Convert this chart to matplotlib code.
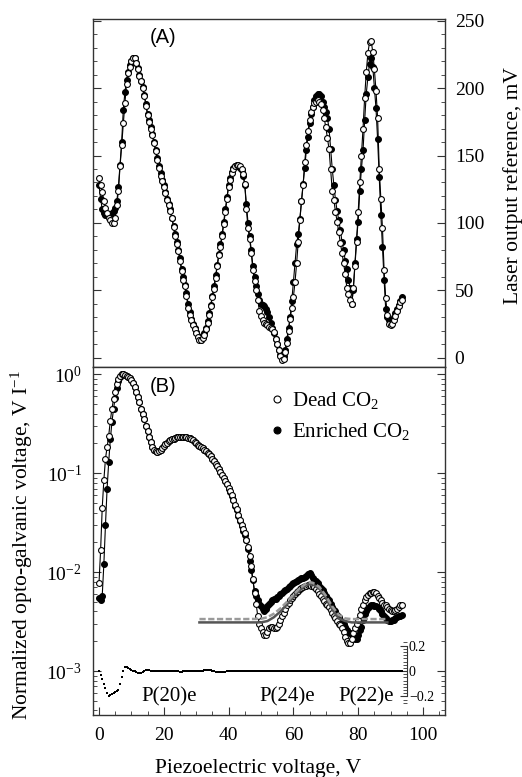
import numpy as np
import matplotlib
matplotlib.use('Agg')
import matplotlib.pyplot as plt
from matplotlib.lines import Line2D
from matplotlib.ticker import MultipleLocator, LogLocator, NullFormatter

plt.rcParams['font.family'] = ['Liberation Serif', 'DejaVu Serif']
plt.rcParams['mathtext.fontset'] = 'custom'
plt.rcParams['mathtext.rm'] = 'Liberation Serif'
plt.rcParams['mathtext.it'] = 'Liberation Serif:italic'

# piezoelectric voltage grid, V
piezo = np.arange(0, 94, 0.5)

# (A) laser output reference, mV
deadLaser = [
  133, 128, 123, 116, 111, 107, 104, 102, 100, 100,
  104, 113, 124, 142, 158, 174, 189, 203, 211, 216,
  220, 222, 222, 219, 214, 209, 205, 200, 194, 187,
  180, 175, 170, 165, 159, 153, 147, 141, 135, 131,
  127, 122, 117, 113, 109, 104, 97, 90, 84, 79,
  72, 64, 58, 53, 46, 37, 32, 28, 24, 21,
  18.5, 15.5, 13.5, 13, 14.5, 17, 21, 26, 32, 38,
  45, 51, 59, 68, 76, 82, 90, 99, 108, 118,
  127, 132, 137, 140, 142, 143, 143, 142, 140, 136,
  129, 110, 96, 88, 78, 65, 57, 50, 43, 35,
  31, 28, 26, 25, 24, 23, 22, 21, 19, 14,
  10, 6, 1, -1.5, -1, 4, 11, 20, 29, 37,
  45, 56, 70, 86, 102, 116, 128, 145, 158, 168,
  176, 182, 186, 189, 190, 191, 190, 188, 184, 178,
  171, 163, 155, 140, 124, 117, 108, 101, 93, 85,
  78, 70, 62, 52, 47, 43, 40, 52, 68, 86,
  108, 130, 150, 170, 193, 212, 226, 234, 235, 227,
  214, 198, 178, 140, 118, 96, 65, 44, 32, 25,
  24, 25, 28, 31, 35, 38, 41, 43]

enrichedLaser = [
  128, 118, 110, 107, 106, 106, 106, 106, 107, 109,
  111, 116, 127, 143, 160, 184, 197, 206, 212, 217,
  220, 222, 222, 219, 215, 210, 205, 201, 195, 188,
  181, 176, 171, 166, 160, 154, 148, 142, 137, 132,
  128, 123, 118, 114, 110, 104, 98, 92, 86, 80,
  74, 66, 60, 54, 48, 40, 34, 29, 25, 22,
  19, 16, 14, 13.5, 15, 18, 22, 27, 33, 39,
  46, 53, 61, 69, 77, 84, 92, 101, 110, 119,
  128, 133, 138, 141, 142, 143, 142, 141, 139, 135,
  128, 114, 100, 90, 80, 68, 60, 53, 47, 43,
  40, 39, 38, 36, 34, 30, 26, 22, 18, 14,
  10, 6, 2, 0, 1, 6, 14, 22, 30, 42,
  56, 70, 84, 92, 103, 116, 129, 141, 154, 164,
  174, 181, 186, 191, 194, 196, 196, 194, 190, 186,
  182, 178, 170, 155, 140, 128, 117, 109, 102, 95,
  86, 80, 72, 66, 58, 52, 40, 50, 70, 88,
  101, 124, 140, 154, 176, 196, 208, 218, 222, 216,
  200, 185, 162, 134, 106, 82, 58, 36, 30, 28,
  27, 28, 30, 33, 36, 39, 42, 45]

# (B) normalized opto-galvanic voltage, V/I
deadSignal = [
  0.0077, 0.0167, 0.045, 0.085, 0.14, 0.185, 0.24, 0.34, 0.45, 0.56,
  0.66, 0.80, 0.90, 0.97, 1.0, 1.0, 0.99, 0.97, 0.95, 0.92,
  0.88, 0.82, 0.75, 0.67, 0.59, 0.52, 0.45, 0.40, 0.35, 0.30,
  0.265, 0.235, 0.205, 0.185, 0.172, 0.166, 0.164, 0.166, 0.172, 0.18,
  0.188, 0.196, 0.204, 0.21, 0.216, 0.22, 0.224, 0.227, 0.23, 0.232,
  0.233, 0.234, 0.234, 0.233, 0.231, 0.228, 0.225, 0.22, 0.215, 0.208,
  0.2, 0.195, 0.19, 0.184, 0.178, 0.172, 0.166, 0.16, 0.155, 0.148,
  0.14, 0.133, 0.125, 0.118, 0.11, 0.103, 0.096, 0.09, 0.083, 0.077,
  0.071, 0.066, 0.06, 0.054, 0.048, 0.043, 0.038, 0.034, 0.03, 0.027,
  0.025, 0.021, 0.018, 0.0145, 0.0115, 0.0085, 0.0062, 0.0048, 0.0036, 0.003,
  0.0027, 0.0025, 0.0023, 0.0023, 0.0025, 0.0027, 0.0028, 0.0028, 0.0027, 0.0027,
  0.0028, 0.003, 0.0033, 0.0036, 0.0039, 0.0042, 0.0046, 0.0049, 0.0052, 0.0055,
  0.0057, 0.006, 0.0063, 0.0065, 0.0067, 0.0069, 0.0071, 0.0072, 0.0073, 0.0074,
  0.0074, 0.0073, 0.0072, 0.007, 0.0067, 0.0064, 0.006, 0.0057, 0.0054, 0.0051,
  0.0048, 0.0046, 0.0044, 0.0041, 0.0039, 0.0036, 0.0034, 0.0032, 0.003, 0.0029,
  0.0027, 0.0025, 0.0022, 0.002, 0.0019, 0.0019, 0.0021, 0.0024, 0.0027, 0.003,
  0.0033, 0.0037, 0.0042, 0.0047, 0.0052, 0.0056, 0.0059, 0.0061, 0.0062, 0.0063,
  0.0063, 0.0061, 0.0058, 0.0055, 0.0052, 0.0049, 0.0047, 0.0046, 0.0044, 0.0042,
  0.0041, 0.004, 0.004, 0.0041, 0.0042, 0.0044, 0.0046, 0.0047]

enrichedSignal = [
  0.0055, 0.0052, 0.0058, 0.012, 0.03, 0.07, 0.13, 0.22, 0.33, 0.45,
  0.58, 0.72, 0.85, 0.95, 1.0, 1.0, 0.99, 0.97, 0.95, 0.92,
  0.88, 0.82, 0.75, 0.67, 0.59, 0.52, 0.45, 0.40, 0.35, 0.30,
  0.265, 0.235, 0.205, 0.185, 0.172, 0.166, 0.164, 0.166, 0.172, 0.18,
  0.188, 0.196, 0.204, 0.21, 0.216, 0.22, 0.224, 0.227, 0.23, 0.232,
  0.233, 0.234, 0.234, 0.233, 0.231, 0.228, 0.225, 0.22, 0.215, 0.208,
  0.2, 0.195, 0.19, 0.184, 0.178, 0.172, 0.166, 0.16, 0.155, 0.148,
  0.14, 0.133, 0.125, 0.118, 0.11, 0.103, 0.096, 0.09, 0.083, 0.077,
  0.07, 0.065, 0.059, 0.053, 0.047, 0.042, 0.037, 0.033, 0.029, 0.026,
  0.024, 0.021, 0.017, 0.013, 0.0105, 0.0083, 0.0065, 0.0058, 0.0052, 0.0048,
  0.0045, 0.0042, 0.004, 0.0042, 0.0045, 0.0048, 0.005, 0.0052, 0.0053, 0.0054,
  0.0056, 0.0058, 0.006, 0.0062, 0.0064, 0.0066, 0.0068, 0.0071, 0.0073, 0.0076,
  0.0078, 0.008, 0.0082, 0.0083, 0.0085, 0.0087, 0.0088, 0.0089, 0.0092, 0.0095,
  0.0097, 0.0094, 0.0088, 0.0084, 0.0081, 0.0077, 0.0073, 0.0069, 0.0066, 0.0062,
  0.0058, 0.0055, 0.0052, 0.0048, 0.0044, 0.0041, 0.004, 0.0037, 0.0035, 0.0033,
  0.0031, 0.003, 0.0028, 0.0026, 0.0025, 0.0024, 0.0023, 0.0022, 0.0021, 0.0021,
  0.0023, 0.0026, 0.0028, 0.0033, 0.0038, 0.004, 0.0043, 0.0045, 0.0047, 0.0046,
  0.0045, 0.0045, 0.0044, 0.0042, 0.004, 0.0038, 0.0036, 0.0034, 0.0033, 0.0032,
  0.0032, 0.0033, 0.0033, 0.0034, 0.0035, 0.0036, 0.0036, 0.0037]

# fitted line shapes (grey)
fitPiezo = [31, 35, 40, 45, 50, 52, 54, 56, 58, 60, 62, 64, 65, 66, 68, 70, 72, 74, 76, 78, 80, 85, 89]
fitDead = [0.0031, 0.0031, 0.0031, 0.0031, 0.0031, 0.0032, 0.0035, 0.0040, 0.0047, 0.0056, 0.0066, 0.0074,
           0.0076, 0.0075, 0.0068, 0.0055, 0.0042, 0.0034, 0.0032, 0.0031, 0.0031, 0.0031, 0.0031]
fitEnriched = [0.00335, 0.00335, 0.00335, 0.00335, 0.00337, 0.0035, 0.0038, 0.0043, 0.005, 0.0059, 0.0069, 0.0077,
               0.0079, 0.0078, 0.0071, 0.0058, 0.0045, 0.0037, 0.0034, 0.00335, 0.00335, 0.00335, 0.00335]

# residual of the fit
residual = [
  0.0, -0.03, -0.06, -0.1, -0.13, -0.17, -0.195, -0.19, -0.185, -0.175,
  -0.165, -0.16, -0.15, -0.1, -0.045, 0.0, 0.034, 0.03, 0.02, 0.012,
  0.006, 0.003, -0.003, -0.01, -0.015, -0.018, -0.015, -0.008, 0.0, 0.006,
  0.008, 0.006, 0.004, 0.003, 0.002, 0.001, 0.0, 0.0, -0.001, -0.002,
  -0.002, -0.002, -0.001, 0.0, 0.0, 0.0, 0.0, -0.001, -0.002, -0.003,
  -0.004, -0.004, -0.003, -0.002, -0.001, 0.0, 0.0, 0.0, 0.0, 0.0,
  0.0, 0.0, 0.001, 0.002, 0.004, 0.006, 0.008, 0.01, 0.008, 0.005,
  0.002, -0.001, -0.004, -0.007, -0.009, -0.01, -0.009, -0.007, -0.005, -0.003,
  -0.002, -0.001, 0.0, 0.0, 0.0, 0.0, 0.0, 0.0, 0.0, 0.0,
  0.0, 0.001, 0.001, 0.0, 0.0, -0.001, -0.001, 0.0, 0.0, 0.0,
  0.0, 0.001, 0.0, -0.001, 0.0, 0.0, 0.001, 0.001, 0.0, 0.0,
  0.0, -0.001, -0.001, 0.0, 0.0, 0.0, 0.0, 0.001, 0.0, 0.0,
  0.0, 0.0, -0.001, 0.0, 0.0, 0.0, 0.001, 0.0, 0.0, 0.0,
  0.0, 0.0, 0.0, -0.001, 0.0, 0.0, 0.0, 0.0, 0.001, 0.0,
  0.0, 0.0, 0.0, 0.0, -0.001, 0.0, 0.0, 0.0, 0.0, 0.0,
  0.001, 0.0, 0.0, 0.0, 0.0, 0.0, -0.001, 0.0, 0.0, 0.0,
  0.0, 0.0, 0.0, 0.0, 0.0, 0.001, 0.0, 0.0, 0.0, 0.0,
  0.0, 0.0, -0.001, 0.0, 0.0, 0.0, 0.0, 0.0, 0.0, 0.0,
  0.0, 0.0, 0.0, 0.0, 0.0, 0.0, 0.0, 0.0]

peakLabels = ['P(20)e', 'P(24)e', 'P(22)e']
peakPiezo = [21.6, 58.2, 82.3]
legendLabels = ['Dead CO$_2$', 'Enriched CO$_2$']

W, H = 522, 777
FRAME = '#333333'


def drawSeries(ax, x, y, filled):
  ax.plot(x, y, color='black', lw=0.8, marker='o', ms=4.2, mew=0.8,
          mfc='black' if filled else 'white', mec='black', zorder=3 if filled else 4)


def styleFrame(ax):
  for s in ax.spines.values():
    s.set_color(FRAME)
    s.set_linewidth(1.0)


def main():
  fig = plt.figure(figsize=(W / 100, H / 100), dpi=100)
  left, width = 93 / W, 352 / W
  axA = fig.add_axes([left, 1 - 367 / H, width, 348 / H])
  axB = fig.add_axes([left, 1 - 715 / H, width, 348 / H])
  axR = fig.add_axes([left, 1 - 705 / H, width, 65 / H])

  xlim = (-1.85, 106.8)

  # panel A
  drawSeries(axA, piezo, enrichedLaser, True)
  drawSeries(axA, piezo, deadLaser, False)
  axA.set_xlim(*xlim)
  axA.set_ylim(-6.9, 251.3)
  axA.set_xticks([])
  axA.yaxis.set_major_locator(MultipleLocator(50))
  axA.yaxis.set_minor_locator(MultipleLocator(10))
  axA.tick_params(axis='y', which='both', direction='in', left=True, right=True,
                  labelleft=False, labelright=True, labelsize=14, pad=7, color=FRAME)
  axA.tick_params(axis='y', which='major', length=6)
  axA.tick_params(axis='y', which='minor', length=3)
  styleFrame(axA)
  axA.text(0.199, 0.947, '(A)', transform=axA.transAxes, ha='center', va='center',
           family='Liberation Sans', fontsize=14.5)

  # panel B
  drawSeries(axB, piezo, enrichedSignal, True)
  drawSeries(axB, piezo, deadSignal, False)
  axB.plot(fitPiezo, fitDead, color='#555555', lw=1.8, zorder=6)
  axB.plot(fitPiezo, fitEnriched, color='#9a9a9a', lw=1.8, ls=(0, (2.5, 1)), zorder=7)
  axB.set_yscale('log')
  axB.set_xlim(*xlim)
  axB.set_ylim(3.59e-4, 1.186)
  axB.xaxis.set_major_locator(MultipleLocator(20))
  axB.xaxis.set_minor_locator(MultipleLocator(5))
  axB.yaxis.set_major_locator(LogLocator(base=10, numticks=10))
  axB.yaxis.set_minor_locator(LogLocator(base=10, subs=np.arange(2, 10), numticks=10))
  axB.yaxis.set_minor_formatter(NullFormatter())
  axB.tick_params(axis='both', which='both', direction='in', labelsize=14, color=FRAME)
  axB.tick_params(axis='y', which='both', left=True, right=True, pad=8)
  axB.tick_params(axis='x', which='both', top=False, pad=9)
  axB.tick_params(which='major', length=6)
  axB.tick_params(which='minor', length=3)
  styleFrame(axB)
  axB.text(0.199, 0.945, '(B)', transform=axB.transAxes, ha='center', va='center',
           family='Liberation Sans', fontsize=14.5)
  for label, px in zip(peakLabels, peakPiezo):
    axB.text(px, 5.5e-4, label, ha='center', va='center', fontsize=15)

  handles = [Line2D([], [], ls='none', marker='o', ms=5, mew=0.8, mfc='white', mec='black'),
             Line2D([], [], ls='none', marker='o', ms=5, mew=0.8, mfc='black', mec='black')]
  axB.legend(handles, legendLabels, loc='upper left', bbox_to_anchor=(0.505, 0.934),
             frameon=False, fontsize=15, handlelength=0.6, handletextpad=0.4,
             labelspacing=0.5, borderpad=0, borderaxespad=0)

  # residual inset
  axR.plot(piezo, residual, ls='none', marker='s', ms=1.7, mew=0, color='black')
  axR.set_xlim(*xlim)
  axR.set_ylim(-0.268, 0.2446)
  axR.patch.set_alpha(0)
  for s in ['left', 'top', 'bottom']:
    axR.spines[s].set_visible(False)
  axR.spines['right'].set_position(('data', 95))
  axR.spines['right'].set_bounds(-0.2, 0.2)
  axR.spines['right'].set_color(FRAME)
  axR.set_xticks([])
  axR.yaxis.tick_right()
  axR.set_yticks([-0.2, 0, 0.2])
  axR.set_yticklabels(['\u22120.2', '0', '0.2'])
  axR.yaxis.set_minor_locator(MultipleLocator(0.025))
  axR.tick_params(axis='y', which='both', direction='in', labelsize=10, pad=1.5, color=FRAME)
  axR.tick_params(axis='y', which='major', length=5)
  axR.tick_params(axis='y', which='minor', length=3)

  fig.text(513 / W, 1 - 186 / H, 'Laser output reference, mV', rotation=90,
           ha='center', va='center', fontsize=15.5)
  fig.text(22 / W, 1 - 545 / H, 'Normalized opto-galvanic voltage, V I$^{-1}$', rotation=90,
           ha='center', va='center', fontsize=15.5)
  fig.text(258 / W, 1 - 773 / H, 'Piezoelectric voltage, V', ha='center', va='baseline',
           fontsize=15.5)

  fig.savefig('out.png', dpi=100)


if __name__ == "__main__":
  main()
